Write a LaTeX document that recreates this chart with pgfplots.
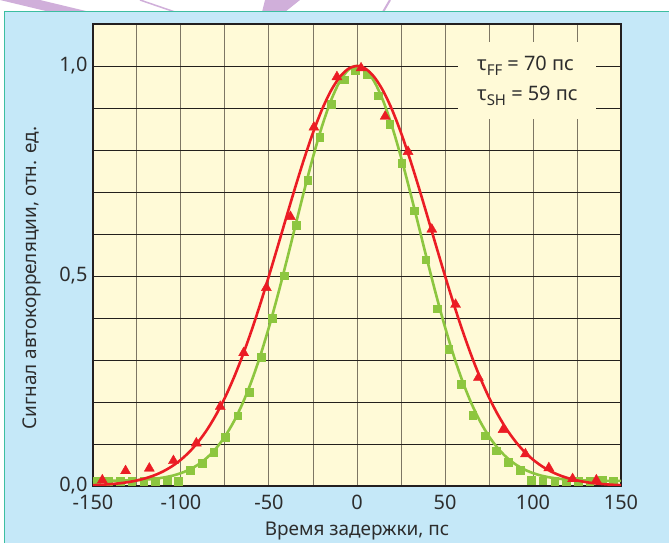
\documentclass[border=0pt]{standalone}
\usepackage{fontspec}
\setmainfont{Noto Sans}
\usepackage{pgfplots}
\pgfplotsset{compat=1.18}
\definecolor{bgblue}{RGB}{197,232,248}
\definecolor{plotyel}{RGB}{255,250,215}
\definecolor{myred}{RGB}{235,28,36}
\definecolor{mygreen}{RGB}{141,198,63}
\definecolor{gridv}{RGB}{125,118,100}
\definecolor{gridh}{RGB}{35,32,28}
\definecolor{txt}{RGB}{45,45,45}
\definecolor{tealb}{RGB}{60,190,160}
\definecolor{lav}{RGB}{208,175,218}
\definecolor{axline}{RGB}{35,31,32}
\begin{document}
\begin{tikzpicture}
\useasboundingbox (-93bp,-57bp) rectangle (576bp,486bp);
\fill[white] (-93bp,-57bp) rectangle (576bp,486bp);
% decorative strokes at top (image px -> (X-93, 486-Y))
\fill[lav] (-93bp,486bp) -- (-53bp,486bp) -- (-3bp,474bp) -- (-43bp,474bp) -- cycle;
\draw[lav, line width=1.5bp] (47bp,486bp) -- (82bp,474bp);
\fill[lav] (172bp,486bp) -- (207bp,486bp) -- (192bp,474bp) -- (169bp,474bp) -- cycle;
\draw[lav, line width=2bp] (297bp,486bp) -- (290bp,474bp);
\fill[bgblue] (-88bp,-57bp) rectangle (576bp,474bp);
\draw[tealb, line width=1bp] (-88bp,-57bp) -- (-88bp,474bp) -- (576bp,474bp);
\begin{axis}[
  at={(0,0)}, anchor=south west,
  scale only axis, width=528bp, height=462bp,
  xmin=-150, xmax=150, ymin=0, ymax=1.1,
  axis background/.style={fill=plotyel},
  xtick={-150,-100,-50,0,50,100,150},
  xticklabels={-150,-100,-50,0,50,100,150},
  minor xtick={-125,-75,-25,25,75,125},
  ytick={0,0.5,1},
  yticklabels={{0,0},{0,5},{1,0}},
  minor ytick={0.1,0.2,0.3,0.4,0.6,0.7,0.8,0.9,1.1},
  xmajorgrids, xminorgrids, ymajorgrids, yminorgrids,
  x grid style={gridv, line width=1bp},
  y grid style={gridh, line width=0.9bp},
  major tick length=0pt, minor tick length=0pt,
  axis line style={line width=2.4bp, draw=axline},
  tick label style={font=\fontsize{20}{20}\selectfont, text=txt},
  xticklabel style={yshift=-6bp},
  yticklabel style={xshift=-2bp},
  label style={font=\fontsize{19}{19}\selectfont, text=txt},
  xlabel={Время задержки, пс},
  ylabel={Сигнал автокорреляции, отн. ед.},
  xlabel style={at={(axis description cs:0.5,-0.097)}, anchor=center},
  ylabel style={at={(axis description cs:-0.115,0.45)}, anchor=center},
  clip mode=individual,
]
% green fit curve
\addplot[mygreen, line width=2.6bp, smooth, no marks] coordinates {
(-150,0.0121)(-145,0.0122)(-140,0.0124)(-135,0.0127)(-130,0.0132)(-125,0.0140)(-120,0.0153)(-115,0.0172)(-110,0.0201)(-105,0.0244)(-100,0.0307)(-95,0.0395)(-90,0.0517)(-85,0.0682)(-80,0.0900)(-75,0.1181)(-70,0.1534)(-65,0.1968)(-60,0.2488)(-55,0.3095)(-50,0.3785)(-45,0.4544)(-40,0.5357)(-35,0.6197)(-30,0.7033)(-25,0.7830)(-20,0.8550)(-15,0.9156)(-10,0.9616)(-5,0.9903)(0,1.0)
(5,0.9903)(10,0.9616)(15,0.9156)(20,0.8550)(25,0.7830)(30,0.7033)(35,0.6197)(40,0.5357)(45,0.4544)(50,0.3785)(55,0.3095)(60,0.2488)(65,0.1968)(70,0.1534)(75,0.1181)(80,0.0900)(85,0.0682)(90,0.0517)(95,0.0395)(100,0.0307)(105,0.0244)(110,0.0201)(115,0.0172)(120,0.0153)(125,0.0140)(130,0.0132)(135,0.0127)(140,0.0124)(145,0.0122)(150,0.0121)
};
% green squares
\addplot[only marks, mark=square*, mark size=3.8bp, mygreen] coordinates {
(-148,0.013)(-141.3,0.012)(-134.7,0.012)(-128,0.012)(-121.3,0.011)(-114.7,0.011)(-108,0.013)(-101.5,0.011)
(-94.8,0.037)(-88.1,0.054)(-81.5,0.080)(-74.8,0.116)(-67.8,0.167)(-61.1,0.224)(-54.3,0.307)(-48.3,0.400)(-41.2,0.501)(-34.4,0.621)(-27.9,0.728)(-21.3,0.831)(-14.6,0.909)(-7.4,0.967)(-1.1,0.990)
(5.5,0.979)(12.1,0.929)(18.6,0.862)(25.5,0.768)(32.5,0.655)(39.1,0.539)(45.4,0.422)(52,0.325)(59.1,0.243)(65.7,0.169)(72.8,0.120)(79,0.084)(86,0.056)(92.7,0.038)
(99,0.014)(105.6,0.013)(112.3,0.012)(119,0.011)(125.6,0.012)(132.3,0.012)(139.2,0.014)(145.5,0.013)
};
% red fit curve
\addplot[myred, line width=2.6bp, smooth, no marks] coordinates {
(-150,0.0020)(-145,0.0030)(-140,0.0044)(-135,0.0064)(-130,0.0093)(-125,0.0132)(-120,0.0186)(-115,0.0257)(-110,0.0351)(-105,0.0473)(-100,0.0628)(-95,0.0822)(-90,0.1062)(-85,0.1353)(-80,0.1701)(-75,0.2107)(-70,0.2576)(-65,0.3105)(-60,0.3692)(-55,0.4328)(-50,0.5006)(-45,0.5709)(-40,0.6422)(-35,0.7124)(-30,0.7795)(-25,0.8411)(-20,0.8952)(-15,0.9396)(-10,0.9727)(-5,0.9931)(0,1.0)
(5,0.9931)(10,0.9727)(15,0.9396)(20,0.8952)(25,0.8411)(30,0.7795)(35,0.7124)(40,0.6422)(45,0.5709)(50,0.5006)(55,0.4328)(60,0.3692)(65,0.3105)(70,0.2576)(75,0.2107)(80,0.1701)(85,0.1353)(90,0.1062)(95,0.0822)(100,0.0628)(105,0.0473)(110,0.0351)(115,0.0257)(120,0.0186)(125,0.0132)(130,0.0093)(135,0.0064)(140,0.0044)(145,0.0030)(150,0.0020)
};
% red triangles
\addplot[only marks, mark=triangle*, mark size=5.8bp, myred] coordinates {
(-144.7,0.014)(-131.5,0.036)(-118,0.042)(-104.3,0.060)(-91.3,0.102)(-77.7,0.189)(-64.4,0.317)(-51.5,0.472)(-37.8,0.641)(-24.5,0.854)(-11.4,0.974)
(2.3,0.995)(16,0.880)(29,0.796)(42.5,0.611)(56,0.432)(69,0.258)(83,0.134)(95.7,0.076)(109,0.043)(122.5,0.017)(136,0.014)
};
\node[fill=plotyel, inner sep=0pt, minimum width=138bp, minimum height=77bp, align=left, text=txt, font=\fontsize{20}{30}\selectfont] at (axis cs:96.8,0.965)
{τ\raisebox{-0.45ex}{\fontsize{15}{15}\selectfont FF} = 70 пс\\ τ\raisebox{-0.45ex}{\fontsize{15}{15}\selectfont SH} = 59 пс};
\end{axis}
\end{tikzpicture}
\end{document}
